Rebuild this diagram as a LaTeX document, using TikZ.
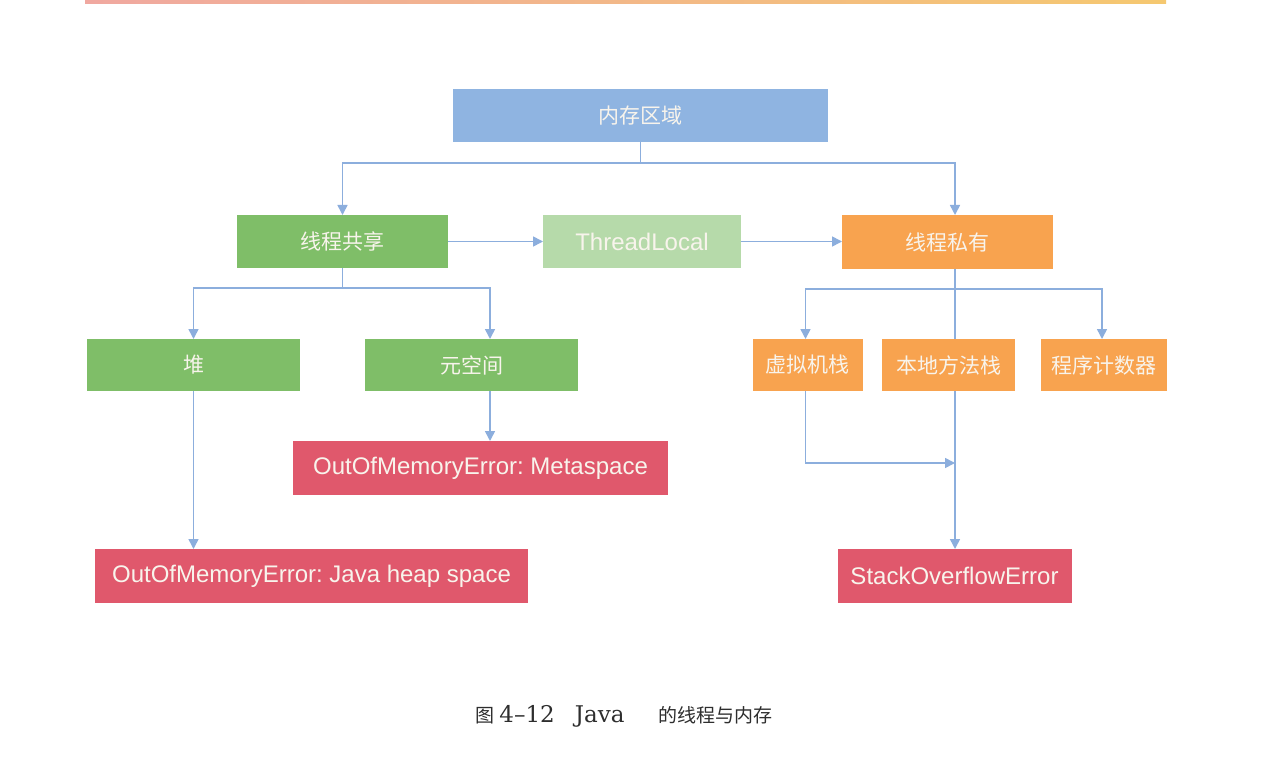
\documentclass[tikz,border=0pt]{standalone}
\usepackage{fontspec}
\newfontfamily\cjk{Noto Sans CJK SC}
\newfontfamily\boxlat{Liberation Sans}
\newfontfamily\capserif{DejaVu Serif}
\usetikzlibrary{arrows.meta}
\definecolor{bluebox}{HTML}{8FB4E1}
\definecolor{greenbox}{HTML}{7FBE68}
\definecolor{lgreenbox}{HTML}{B6DAAA}
\definecolor{orangebox}{HTML}{F8A34F}
\definecolor{redbox}{HTML}{E0586C}
\definecolor{linec}{HTML}{8CAEDD}
\definecolor{boxtext}{HTML}{F8F4EC}
\definecolor{captext}{HTML}{2E2E2E}
\frenchspacing
\tikzset{
  box/.style={inner sep=0pt, outer sep=0pt, text=boxtext, anchor=center},
  cjkbox/.style={box, font=\cjk\fontsize{10.5}{12}\selectfont},
  latbox/.style={box, font=\boxlat\fontsize{12}{14}\selectfont},
  plainline/.style={draw=linec, line width=0.8pt},
  arr/.style={draw=linec, line width=0.8pt, -{Triangle[length=5pt,width=5pt]}},
}
\begin{document}
\begin{tikzpicture}[x=0.5pt,y=-0.5pt]
\useasboundingbox[fill=white] (0,0) rectangle (1288,764);
% top rule
\shade[left color={rgb,255:red,240;green,168;blue,160}, right color={rgb,255:red,245;green,200;blue,112}] (85,1) rectangle (1166,3.5);

% nodes
\node[cjkbox, fill=bluebox, minimum width=187.5pt, minimum height=26.5pt] (mem) at (640.5,115.5) {内存区域};
\node[cjkbox, fill=greenbox, minimum width=105.5pt, minimum height=26.5pt] (share) at (342.5,241.5) {线程共享};
\node[latbox, fill=lgreenbox, minimum width=99pt, minimum height=26.5pt] (tl) at (642,241.5) {ThreadLocal};
\node[cjkbox, fill=orangebox, minimum width=105.5pt, minimum height=27pt] (priv) at (947.5,242) {线程私有};
\node[cjkbox, fill=greenbox, minimum width=106.5pt, minimum height=26pt] (heap) at (193.5,365) {堆};
\node[cjkbox, fill=greenbox, minimum width=106.5pt, minimum height=26pt] (meta) at (471.5,365) {元空间};
\node[latbox, fill=redbox, minimum width=187.5pt, minimum height=27pt] (oommeta) at (480.5,468) {OutOfMemoryError: Metaspace};
\node[latbox, fill=redbox, minimum width=216.5pt, minimum height=27pt] (oomheap) at (311.5,576) {OutOfMemoryError: Java heap space};
\node[cjkbox, fill=orangebox, minimum width=55pt, minimum height=26pt] (vm) at (807.5,365) {虚拟机栈};
\node[cjkbox, fill=orangebox, minimum width=66.5pt, minimum height=26pt] (native) at (948.5,365) {本地方法栈};
\node[cjkbox, fill=orangebox, minimum width=63pt, minimum height=26pt] (pc) at (1104,365) {程序计数器};
\node[latbox, fill=redbox, minimum width=117pt, minimum height=27pt] (soe) at (954.5,576) {StackOverflowError};

% helper coordinates
\coordinate (ya) at (0,163);
\coordinate (yd) at (0,288);
\coordinate (yb) at (0,289);
\coordinate (yc) at (0,463);
\coordinate (xc) at (955,0);
\coordinate (xv) at (805.5,0);
\coordinate (xp) at (1102,0);
\coordinate (xm) at (490,0);

% top branch
\draw[plainline] (mem.south) -- (mem.south |- ya);
\draw[arr] (mem.south |- ya) -| (share.north);
\draw[arr] (mem.south |- ya) -| (priv.north -| xc);

% horizontal chain
\draw[arr] (share.east) -- (tl.west);
\draw[arr] (tl.east) -- (tl.east -| priv.west);

% shared branch
\draw[plainline] (share.south) -- (share.south |- yd);
\draw[arr] (share.south |- yd) -| (heap.north);
\draw[arr] (share.south |- yd) -| (meta.north -| xm);
\draw[arr] (meta.south -| xm) -- (oommeta.north -| xm);
\draw[arr] (heap.south) -- (heap.south |- oomheap.north);

% private branch
\draw[plainline] (priv.south -| xc) -- (native.north -| xc);
\draw[arr] (yb -| xc) -| (vm.north -| xv);
\draw[arr] (yb -| xc) -| (pc.north -| xp);
\draw[arr] (native.south -| xc) -- (soe.north -| xc);
\draw[arr] (vm.south -| xv) |- (yc -| xc);

% caption
\node[text=captext, inner sep=0pt, font=\capserif\fontsize{11.5}{14}\selectfont] (cap) at (624,716)
  {{\cjk\fontsize{9.5}{12}\selectfont 图}\hspace{2.5pt}4–12\hspace{10pt}Java\hspace{17pt}{\cjk\fontsize{9.5}{12}\selectfont 的线程与内存}};
\end{tikzpicture}
\end{document}
